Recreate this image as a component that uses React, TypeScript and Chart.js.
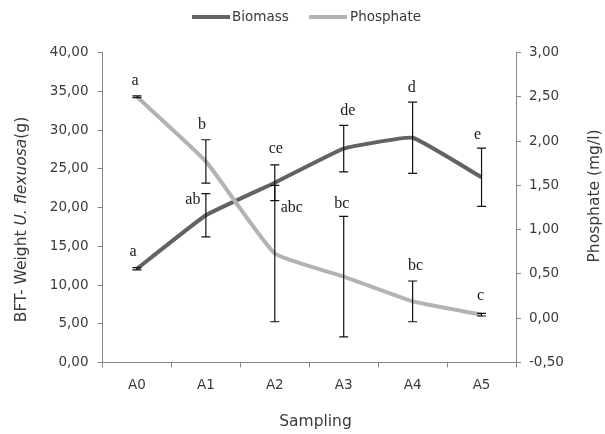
import React, { useEffect, useRef } from 'react';
import { Chart, registerables } from 'chart.js';

Chart.register(...registerables);

// ---- data ----
const categories = ['A0', 'A1', 'A2', 'A3', 'A4', 'A5'];
const biomass = [12.1, 19.0, 23.2, 27.6, 29.0, 23.9];
const biomassErr = [0.15, 2.8, 2.3, 3.0, 4.6, 3.75];
const biomassLetters = ['a', 'ab', 'ce', 'de', 'd', 'e'];
const phosphate = [2.5, 1.77, 0.73, 0.47, 0.19, 0.04];
const phosphateErr = [0.01, 0.245, 0.77, 0.68, 0.23, 0.015];
const phosphateLetters = ['a', 'b', 'abc', 'bc', 'bc', 'c'];
const leftMin = 0;
const leftMax = 40;
const leftStep = 5;
const rightMin = -0.5;
const rightMax = 3;
const rightStep = 0.5;
const seriesNames = ['Biomass', 'Phosphate'];

// ---- style ----
const BIO_COLOR = '#636363';
const PHOS_COLOR = '#b3b3b3';
const AXIS_COLOR = '#868686';
const TEXT_COLOR = '#3a3a3a';
const SANS = '"DejaVu Sans", sans-serif';
const SERIF = '"Liberation Serif", serif';

const fmt = (v: number) => v.toFixed(2).replace('.', ',');

// letter label offsets relative to top of error bar (style)
const bioLetterOffset: [number, number][] = [[-4, -16], [-13, 6], [1, -16], [4, -15], [-1, -14], [-4, -13]];
const phosLetterOffset: [number, number][] = [[-2, -15], [-4, -15], [17, 22], [-2, -13], [3, -15], [-1, -18]];

const decorPlugin = {
  id: 'decor',
  afterDatasetsDraw(chart: any) {
    const ctx = chart.ctx as CanvasRenderingContext2D;
    const groups = [
      { idx: 0, vals: biomass, errs: biomassErr, letters: biomassLetters, off: bioLetterOffset, axis: 'y' },
      { idx: 1, vals: phosphate, errs: phosphateErr, letters: phosphateLetters, off: phosLetterOffset, axis: 'y1' },
    ];
    ctx.save();
    for (const g of groups) {
      const meta = chart.getDatasetMeta(g.idx);
      const ys = chart.scales[g.axis];
      g.vals.forEach((v, j) => {
        const x = meta.data[j].x;
        const yt = ys.getPixelForValue(v + g.errs[j]);
        const yb = ys.getPixelForValue(v - g.errs[j]);
        ctx.strokeStyle = '#111';
        ctx.lineWidth = 1.2;
        ctx.beginPath();
        ctx.moveTo(x, yt);
        ctx.lineTo(x, yb);
        ctx.moveTo(x - 4.5, yt);
        ctx.lineTo(x + 4.5, yt);
        ctx.moveTo(x - 4.5, yb);
        ctx.lineTo(x + 4.5, yb);
        ctx.stroke();
        ctx.fillStyle = '#1a1a1a';
        ctx.font = `16px ${SERIF}`;
        ctx.textAlign = 'center';
        ctx.textBaseline = 'middle';
        ctx.fillText(g.letters[j], x + g.off[j][0], yt + g.off[j][1]);
      });
    }
    ctx.restore();
  },
  afterDraw(chart: any) {
    const ctx = chart.ctx as CanvasRenderingContext2D;
    ctx.save();
    // legend
    const ly = 17;
    const items = [
      { name: seriesNames[0], color: BIO_COLOR, x0: 192, x1: 230, tx: 232 },
      { name: seriesNames[1], color: PHOS_COLOR, x0: 309, x1: 347, tx: 350 },
    ];
    ctx.font = `13.5px ${SANS}`;
    ctx.textBaseline = 'middle';
    ctx.textAlign = 'left';
    for (const it of items) {
      ctx.strokeStyle = it.color;
      ctx.lineWidth = 4;
      ctx.lineCap = 'butt';
      ctx.beginPath();
      ctx.moveTo(it.x0, ly);
      ctx.lineTo(it.x1, ly);
      ctx.stroke();
      ctx.fillStyle = TEXT_COLOR;
      ctx.fillText(it.name, it.tx, ly);
    }
    // x title
    ctx.font = `15.5px ${SANS}`;
    ctx.textAlign = 'center';
    ctx.fillStyle = TEXT_COLOR;
    ctx.fillText('Sampling', 315.5, 421.5);
    // right title
    ctx.save();
    ctx.translate(595, 196);
    ctx.rotate(-Math.PI / 2);
    ctx.fillText('Phosphate (mg/l)', 0, 0);
    ctx.restore();
    // left title with italic part
    const parts = [
      { t: 'BFT- Weight ', f: `15.5px ${SANS}` },
      { t: 'U. flexuosa', f: `italic 15.5px ${SANS}` },
      { t: '(g)', f: `15.5px ${SANS}` },
    ];
    let total = 0;
    const widths = parts.map((p) => {
      ctx.font = p.f;
      const w = ctx.measureText(p.t).width;
      total += w;
      return w;
    });
    ctx.save();
    ctx.translate(22, 219.5);
    ctx.rotate(-Math.PI / 2);
    ctx.textAlign = 'left';
    let cx = -total / 2;
    parts.forEach((p, i) => {
      ctx.font = p.f;
      ctx.fillText(p.t, cx, 0);
      cx += widths[i];
    });
    ctx.restore();
    ctx.restore();
  },
};

export default function App() {
  const ref = useRef<HTMLCanvasElement | null>(null);
  useEffect(() => {
    if (!ref.current) return;
    const chart = new Chart(ref.current, {
      type: 'line',
      data: {
        labels: categories,
        datasets: [
          {
            label: seriesNames[0],
            data: biomass,
            borderColor: BIO_COLOR,
            backgroundColor: BIO_COLOR,
            borderWidth: 4,
            pointRadius: 0,
            tension: 0.1,
            yAxisID: 'y',
            order: 2,
          },
          {
            label: seriesNames[1],
            data: phosphate,
            borderColor: PHOS_COLOR,
            backgroundColor: PHOS_COLOR,
            borderWidth: 4,
            pointRadius: 0,
            tension: 0.12,
            yAxisID: 'y1',
            order: 1,
          },
        ],
      },
      options: {
        animation: false,
        responsive: false,
        devicePixelRatio: 1,
        layout: { padding: { top: 52.5, left: 0, right: 0, bottom: 0 } },
        plugins: { legend: { display: false }, tooltip: { enabled: false } },
        scales: {
          x: {
            type: 'category',
            offset: true,
            grid: { offset: true, drawOnChartArea: false, drawTicks: true, tickLength: 5, color: AXIS_COLOR },
            border: { display: true, color: AXIS_COLOR, width: 1 },
            ticks: { color: TEXT_COLOR, font: { family: SANS, size: 13.5 }, padding: 10, maxRotation: 0 },
            afterFit: (s: any) => { s.height = 71.5; },
          },
          y: {
            position: 'left',
            min: leftMin,
            max: leftMax,
            grid: { drawOnChartArea: false, drawTicks: true, tickLength: 5, color: AXIS_COLOR },
            border: { display: true, color: AXIS_COLOR, width: 1 },
            ticks: { stepSize: leftStep, color: TEXT_COLOR, font: { family: SANS, size: 13.5 }, padding: 9, callback: (v: any) => fmt(Number(v)) },
            afterFit: (s: any) => { s.width = 102.5; },
          },
          y1: {
            position: 'right',
            min: rightMin,
            max: rightMax,
            grid: { drawOnChartArea: false, drawTicks: true, tickLength: 5, color: AXIS_COLOR },
            border: { display: true, color: AXIS_COLOR, width: 1 },
            ticks: { stepSize: rightStep, color: TEXT_COLOR, font: { family: SANS, size: 13.5 }, padding: 8, callback: (v: any) => fmt(Number(v)) },
            afterFit: (s: any) => { s.width = 89; },
          },
        },
      },
      plugins: [decorPlugin],
    });
    return () => chart.destroy();
  }, []);
  return (
    <div style={{ position: 'absolute', left: 0, top: 0, width: 605, height: 434, background: '#fff' }}>
      <canvas ref={ref} width={605} height={434} />
    </div>
  );
}
